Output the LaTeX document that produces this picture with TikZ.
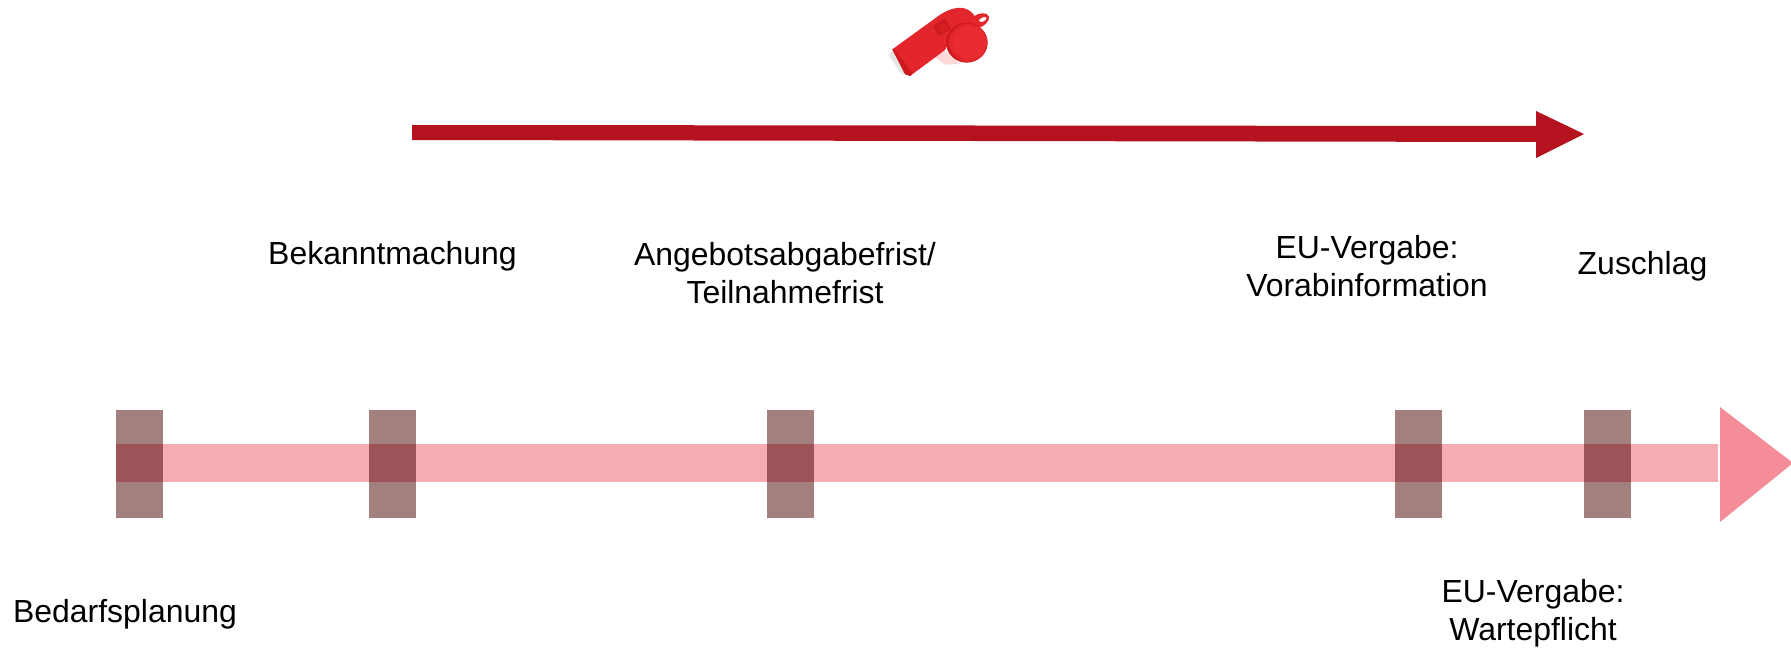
\documentclass[tikz,border=0pt]{standalone}
\usepackage{fontspec}
\setmainfont{Liberation Sans}
\definecolor{arrowred}{HTML}{B5121F}
\definecolor{barpink}{HTML}{F7ABB3}
\definecolor{headpink}{HTML}{F58D99}
\definecolor{markbrown}{HTML}{A37F7E}
\definecolor{markdark}{HTML}{9E5358}
\definecolor{wred}{HTML}{E3262B}
\definecolor{wdark}{HTML}{CC1A1E}
\definecolor{wlight}{HTML}{E82C30}
\definecolor{wwin}{HTML}{D8201F}
\tikzset{
  lbl/.style={align=center,inner sep=0pt,font=\fontsize{23.95pt}{28.5pt}\selectfont,text=black},
}
\newcommand{\marker}[1]{%
  \fill[markbrown] (#1,410) rectangle ++(47,108);
  \fill[markdark] (#1,443.5) rectangle ++(47,38.2);
}
\begin{document}
\begin{tikzpicture}[x=0.75pt,y=-0.75pt]
\useasboundingbox (0,0) rectangle (1791,649);
\clip (0,0) rectangle (1791,649);
% whistle
\begin{scope}[shift={(860,0)},x=0.25pt,y=-0.25pt]
  \fill[black!10] (85,165) -- (100,150) -- (140,225) -- (125,222) -- cycle;
  \fill[red!15] (215,165) -- (250,150) -- (300,192) -- (255,194) -- cycle;
  \fill[wred,even odd rule] (330,60) .. controls (340,45) and (365,35) .. (380,42) .. controls (395,50) and (385,70) .. (365,80) .. controls (350,85) and (335,80) .. (330,60) -- cycle
    (356,62) .. controls (362,50) and (380,48) .. (380,54) .. controls (380,62) and (362,72) .. (356,62) -- cycle;
  \fill[wred] (97,148) -- (235,48) .. controls (262,28) and (300,15) .. (325,30) .. controls (345,42) and (355,60) .. (350,85) -- (290,170) -- (262,135) -- (255,150) -- (150,228) -- (135,222) -- cycle;
  \fill[wdark] (97,148) -- (103,147) -- (158,220) -- (150,228) -- (135,222) -- cycle;
  \fill[wdark] (220,78) -- (255,55) -- (272,90) -- (235,108) -- cycle;
  \fill[wwin] (238,84) -- (255,68) -- (265,88) -- (243,100) -- cycle;
  \fill[wdark] (320,128) ellipse (62 and 60);
  \fill[wred] (325,128) ellipse (58 and 57);
  \fill[wlight] (328,128) ellipse (50 and 50);
\end{scope}
% top arrow
\fill[arrowred] (412,125) -- (1536,126) -- (1536,111) -- (1584,134) -- (1536,158) -- (1536,142) -- (412,140) -- cycle;
% timeline
\fill[barpink] (117,443.5) rectangle (1718,481.7);
\fill[headpink] (1720,407) -- (1793,463) -- (1720,522) -- cycle;
\marker{116}\marker{369}\marker{767}\marker{1395}\marker{1584}
% labels
\node[lbl] (bedarf) at (125,614.5) {Bedarfsplanung};
\node[lbl] (bekannt) at (392.5,256.5) {Bekanntmachung};
\node[lbl] (angebot) at (785,273) {Angebotsabgabefrist/\\Teilnahmefrist};
\node[lbl] (vorab) at (1367,266.5) {EU-Vergabe:\\Vorabinformation};
\node[lbl] (zuschlag) at (1642.5,266.5) {Zuschlag};
\node[lbl] (warte) at (1533,613.5) {EU-Vergabe:\\Wartepflicht};
\end{tikzpicture}
\end{document}
